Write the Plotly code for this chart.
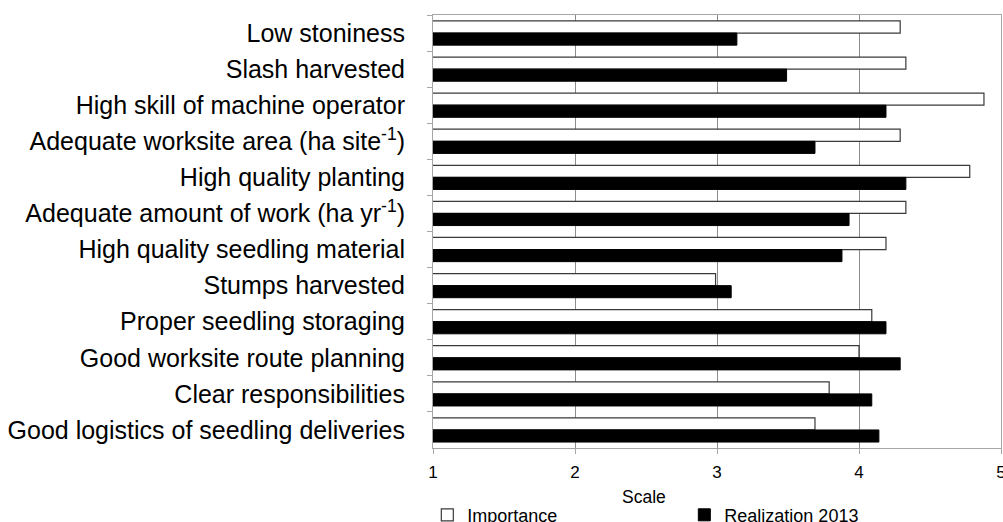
import plotly.graph_objects as go

categories = [
    "Low stoniness",
    "Slash harvested",
    "High skill of machine operator",
    "Adequate worksite area (ha site<sup>-1</sup>)",
    "High quality planting",
    "Adequate amount of work (ha yr<sup>-1</sup>)",
    "High quality seedling material",
    "Stumps harvested",
    "Proper seedling storaging",
    "Good worksite route planning",
    "Clear responsibilities",
    "Good logistics of seedling deliveries",
]
importance = [4.29, 4.33, 4.88, 4.29, 4.78, 4.33, 4.19, 2.99, 4.09, 4.0, 3.79, 3.69]
realization_2013 = [3.14, 3.49, 4.19, 3.69, 4.33, 3.93, 3.88, 3.1, 4.19, 4.29, 4.09, 4.14]
x_ticks = [1, 2, 3, 4, 5]

FONT = "Liberation Sans, Arial, sans-serif"

fig = go.Figure()
fig.add_trace(go.Bar(
    y=categories, x=importance, orientation="h", name="Importance",
    base=0,
    marker=dict(color="white", line=dict(color="#3a3a3a", width=1.2)),
))
fig.add_trace(go.Bar(
    y=categories, x=realization_2013, orientation="h", name="Realization 2013",
    base=0,
    marker=dict(color="black", line=dict(color="black", width=1)),
))

fig.update_layout(
    width=1003, height=522,
    margin=dict(l=433, r=2, t=15, b=74, autoexpand=False),
    barmode="group", bargap=0.33, bargroupgap=0,
    plot_bgcolor="white", paper_bgcolor="white",
    font=dict(family=FONT, color="black", size=18),
    showlegend=True,
    legend=dict(
        orientation="h", x=-0.01, xanchor="left", y=-0.155, yanchor="middle",
        font=dict(size=18, family=FONT), entrywidth=212, itemwidth=30,
        traceorder="normal", bgcolor="rgba(0,0,0,0)",
    ),
    xaxis=dict(
        range=[1, 5], tickvals=x_ticks, ticktext=[str(v) for v in x_ticks],
        showgrid=True, gridcolor="#8c8c8c", gridwidth=1,
        showline=True, linecolor="#a6a6a6", linewidth=1, mirror=True,
        ticks="outside", ticklen=5, tickcolor="#a6a6a6",
        tickfont=dict(size=17), zeroline=False, ticklabelstandoff=4,
        ticklabeloverflow="allow",
    ),
    yaxis=dict(
        type="category", categoryorder="array", categoryarray=categories,
        autorange="reversed",
        showgrid=False, showline=True, linecolor="#a6a6a6", linewidth=1, mirror=True,
        ticks="outside", ticklen=5, tickcolor="#a6a6a6", tickson="boundaries",
        tickfont=dict(size=25), ticklabelstandoff=22,
    ),
    annotations=[dict(
        text="Scale", xref="paper", yref="paper", x=0.372, y=0, yshift=-49,
        xanchor="center", yanchor="middle", showarrow=False,
        font=dict(size=17.5, family=FONT),
    )],
)

fig.write_html("out.html", config={"displayModeBar": False},
               post_script="document.body.style.margin='0';")
